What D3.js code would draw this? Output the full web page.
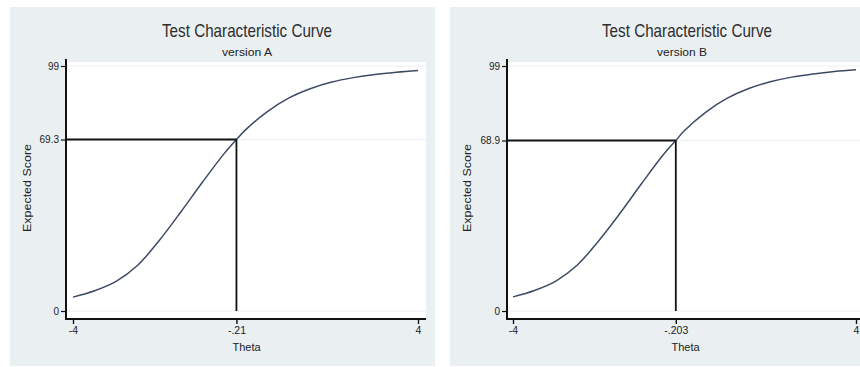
<!DOCTYPE html>
<html>
<head>
<meta charset="utf-8">
<script src="https://cdn.jsdelivr.net/npm/d3@7/dist/d3.min.js"></script>
<style>
  html, body { margin: 0; padding: 0; background: #ffffff; }
  svg { display: block; }
  text { font-family: "Liberation Sans Narrow", "Arial Narrow", "Liberation Sans", Arial, sans-serif; fill: #222; }
</style>
</head>
<body>
<svg id="chart" width="860" height="367"></svg>
<script>
// Test characteristic curves for two test versions
const thetaA = [-4, -3.5, -3, -2.5, -2, -1.5, -1, -0.5, -0.21, 0, 0.5, 1, 1.5, 2, 2.5, 3, 3.5, 4];
const scoreA = [5.6, 8.2, 12.0, 18.5, 28.5, 40.0, 52.0, 63.5, 69.3, 73.2, 80.5, 86.0, 89.8, 92.5, 94.3, 95.6, 96.5, 97.2];

const thetaB = [-4, -3.5, -3, -2.5, -2, -1.5, -1, -0.5, -0.203, 0, 0.5, 1, 1.5, 2, 2.5, 3, 3.5, 4];
const scoreB = [5.7, 8.3, 12.1, 18.6, 28.4, 39.6, 51.5, 63.0, 68.9, 72.9, 80.4, 86.0, 89.9, 92.6, 94.5, 95.8, 96.8, 97.5];

// Cut points marked with reference lines
const cutThetaA = -0.21, cutScoreA = 69.3;
const cutThetaB = -0.203, cutScoreB = 68.9;

// Axis tick values and their labels
const yTicksA = [0, cutScoreA, 99];
const yLabelsA = ["0", "69.3", "99"];
const xTicksA = [-4, cutThetaA, 4];
const xLabelsA = ["-4", "-.21", "4"];

const yTicksB = [0, cutScoreB, 99];
const yLabelsB = ["0", "68.9", "99"];
const xTicksB = [-4, cutThetaB, 4];
const xLabelsB = ["-4", "-.203", "4"];

const titleText = "Test Characteristic Curve";
const subtitles = ["version A", "version B"];

const svg = d3.select("#chart");
const narrow = '"Liberation Sans Narrow", "Arial Narrow", "Liberation Sans", sans-serif';

function drawPanel(p) {
  const g = svg.append("g");

  // graph region
  g.append("rect")
    .attr("x", p.bg[0]).attr("y", 7)
    .attr("width", p.bg[1] - p.bg[0]).attr("height", 359)
    .attr("fill", "#eaf0f2");

  const x = d3.scaleLinear().domain([-4, 4]).range(p.xRange);
  const y = d3.scaleLinear().domain([0, 99]).range([311, 66]);

  // plot region
  g.append("rect")
    .attr("x", p.axisX).attr("y", 62)
    .attr("width", p.plotRight - p.axisX).attr("height", 319 - 62)
    .attr("fill", "#ffffff");

  // faint gridlines at y ticks
  g.selectAll("line.grid").data(p.yTicks).join("line")
    .attr("class", "grid")
    .attr("x1", p.axisX).attr("x2", p.plotRight)
    .attr("y1", d => y(d)).attr("y2", d => y(d))
    .attr("stroke", "#eaeff1").attr("stroke-width", 1);

  // titles
  g.append("text")
    .attr("x", p.titleX).attr("y", 37)
    .attr("text-anchor", "middle")
    .attr("font-size", 19)
    .attr("textLength", 170).attr("lengthAdjust", "spacingAndGlyphs")
    .style("fill", "#2e2e2e")
    .text(titleText);
  g.append("text")
    .attr("x", p.subX).attr("y", 56)
    .attr("text-anchor", "middle")
    .attr("font-size", 11)
    .attr("textLength", 50).attr("lengthAdjust", "spacingAndGlyphs")
    .style("fill", "#222")
    .text(p.subtitle);

  // curve
  const pts = p.theta.map((t, i) => [t, p.score[i]]);
  g.append("path")
    .datum(pts)
    .attr("fill", "none")
    .attr("stroke", "#3d4a66")
    .attr("stroke-width", 1.5)
    .attr("d", d3.line().x(d => x(d[0])).y(d => y(d[1])).curve(d3.curveCatmullRom.alpha(0.5)));

  // reference lines at the cut point
  g.append("line")
    .attr("x1", p.axisX).attr("x2", x(p.cutTheta))
    .attr("y1", y(p.cutScore)).attr("y2", y(p.cutScore))
    .attr("stroke", "#111").attr("stroke-width", 1.8);
  g.append("line")
    .attr("x1", x(p.cutTheta)).attr("x2", x(p.cutTheta))
    .attr("y1", y(p.cutScore)).attr("y2", y(0))
    .attr("stroke", "#111").attr("stroke-width", 1.8);

  // y axis
  const yAxis = d3.axisLeft(y)
    .tickValues(p.yTicks)
    .tickFormat((d, i) => p.yLabels[i])
    .tickSize(5).tickSizeOuter(0).tickPadding(2);
  const ya = g.append("g").attr("transform", `translate(${p.axisX},0)`).call(yAxis);
  ya.select(".domain").remove();
  ya.selectAll(".tick line").attr("stroke", "#111").attr("stroke-width", 1.2);
  ya.selectAll(".tick text").attr("font-size", 10).style("fill", "#222")
    .style("font-family", narrow);
  g.append("line")
    .attr("x1", p.axisX).attr("x2", p.axisX)
    .attr("y1", 59).attr("y2", 320)
    .attr("stroke", "#111").attr("stroke-width", 2);

  // x axis
  const xAxis = d3.axisBottom(x)
    .tickValues(p.xTicks)
    .tickFormat((d, i) => p.xLabels[i])
    .tickSize(5).tickSizeOuter(0).tickPadding(3);
  const xa = g.append("g").attr("transform", "translate(0,319)").call(xAxis);
  xa.select(".domain").remove();
  xa.selectAll(".tick line").attr("stroke", "#111").attr("stroke-width", 1.4);
  xa.selectAll(".tick text").attr("font-size", 10.5).style("fill", "#222")
    .style("font-family", narrow);
  g.append("line")
    .attr("x1", p.axisX - 1).attr("x2", p.plotRight)
    .attr("y1", 319).attr("y2", 319)
    .attr("stroke", "#111").attr("stroke-width", 2);

  // axis titles
  g.append("text")
    .attr("x", (p.xRange[0] + p.xRange[1]) / 2 + 1).attr("y", 351)
    .attr("text-anchor", "middle").attr("font-size", 11)
    .text("Theta");
  g.append("text")
    .attr("transform", `translate(${p.yTitleX},188) rotate(-90)`)
    .attr("text-anchor", "middle").attr("font-size", 11)
    .attr("textLength", 88).attr("lengthAdjust", "spacingAndGlyphs")
    .text("Expected Score");
}

drawPanel({
  bg: [10, 435], xRange: [73, 418], axisX: 66, plotRight: 426,
  titleX: 247, subX: 247, yTitleX: 31,
  subtitle: subtitles[0],
  theta: thetaA, score: scoreA, cutTheta: cutThetaA, cutScore: cutScoreA,
  yTicks: yTicksA, yLabels: yLabelsA, xTicks: xTicksA, xLabels: xLabelsA
});

drawPanel({
  bg: [450, 860], xRange: [513, 856], axisX: 507, plotRight: 860,
  titleX: 687, subX: 682, yTitleX: 471,
  subtitle: subtitles[1],
  theta: thetaB, score: scoreB, cutTheta: cutThetaB, cutScore: cutScoreB,
  yTicks: yTicksB, yLabels: yLabelsB, xTicks: xTicksB, xLabels: xLabelsB
});
</script>
</body>
</html>
